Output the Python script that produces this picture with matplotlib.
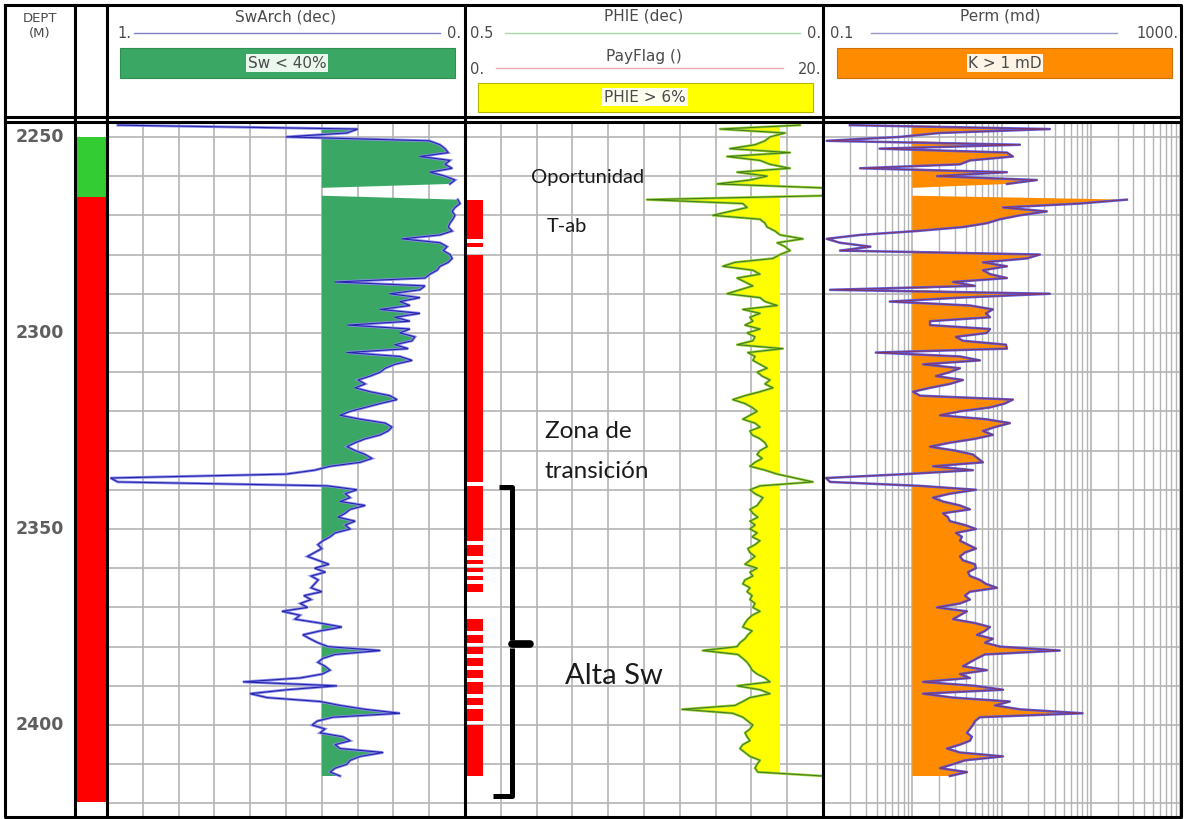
import numpy as np
import matplotlib
matplotlib.use("Agg")
import matplotlib.pyplot as plt
from matplotlib.patches import Rectangle

# ---------------------------------------------------------------- data
depth = np.arange(2247, 2414)  # metres, 1 m sampling

sw = np.array([
    0.97, 0.30, 0.33,
    0.50, 0.10, 0.07, 0.056, 0.047, 0.126, 0.042, 0.056, 0.036, 0.098,
    0.056, 0.028, 0.042, np.nan, np.nan, np.nan, 0.02, 0.014, 0.028, 0.036,
    0.028, 0.034, 0.042, 0.047, 0.036, 0.07, 0.176, 0.07, 0.05, 0.061,
    0.042, 0.036, 0.047, 0.07, 0.078, 0.098, 0.112, 0.363, 0.112, 0.126,
    0.21, 0.126, 0.182, 0.154, 0.237, 0.126, 0.196, 0.154, 0.327, 0.154,
    0.182, 0.14, 0.148, 0.196, 0.159, 0.33, 0.182, 0.148, 0.196, 0.223,
    0.237, 0.265, 0.299, 0.279, 0.307, 0.265, 0.21, 0.19, 0.237, 0.279,
    0.321, 0.349, 0.293, 0.223, 0.204, 0.215, 0.237, 0.279, 0.307, 0.33,
    0.307, 0.279, 0.26, 0.293, 0.377, 0.42, 0.50, 0.99, 0.97, 0.385,
    0.302, 0.335, 0.321, 0.349, 0.279, 0.321, 0.335, 0.355, 0.307, 0.335,
    0.321, 0.363, 0.377, 0.397, 0.411, 0.40, 0.42, 0.44, 0.41, 0.38,
    0.42, 0.39, 0.43, 0.41, 0.42, 0.43, 0.40, 0.45, 0.43, 0.46,
    0.44, 0.511, 0.461, 0.475, 0.405, 0.344, 0.405, 0.453, 0.433, 0.411,
    0.383, 0.237, 0.363, 0.397, 0.411, 0.391, 0.377, 0.399, 0.461, 0.62,
    0.358, 0.497, 0.60, 0.553, 0.405, 0.349, 0.279, 0.182, 0.369, 0.413,
    0.427, 0.391, 0.405, 0.341, 0.321, 0.363, 0.349, 0.229, 0.293, 0.321,
    0.33, 0.363, 0.377, 0.349,
])

phie = np.array([
    0.032, 0.144, 0.053,
    0.074, 0.081, 0.095, 0.130, 0.046, 0.134, 0.088, 0.074, 0.046, 0.120,
    0.078, 0.102, 0.148, 0.0, 0.0, 0.0, 0.246, 0.112, 0.106, 0.130,
    0.154, 0.088, 0.081, 0.078, 0.067, 0.060, 0.028, 0.064, 0.053, 0.046,
    0.060, 0.070, 0.123, 0.140, 0.098, 0.088, 0.120, 0.109, 0.098, 0.116,
    0.134, 0.088, 0.081, 0.064, 0.112, 0.088, 0.102, 0.098, 0.109, 0.088,
    0.106, 0.095, 0.098, 0.120, 0.056, 0.105, 0.095, 0.098, 0.088, 0.078,
    0.092, 0.085, 0.074, 0.081, 0.070, 0.088, 0.109, 0.126, 0.109, 0.099,
    0.092, 0.102, 0.112, 0.095, 0.088, 0.102, 0.099, 0.088, 0.081, 0.078,
    0.088, 0.092, 0.085, 0.095, 0.102, 0.081, 0.064, 0.039, 0.014, 0.088,
    0.102, 0.095, 0.084, 0.088, 0.092, 0.102, 0.098, 0.091, 0.102, 0.095,
    0.102, 0.092, 0.099, 0.088, 0.095, 0.105, 0.102, 0.095, 0.102, 0.109,
    0.092, 0.102, 0.098, 0.109, 0.112, 0.102, 0.106, 0.099, 0.102, 0.095,
    0.098, 0.088, 0.099, 0.105, 0.109, 0.112, 0.099, 0.105, 0.109, 0.116,
    0.120, 0.168, 0.119, 0.112, 0.106, 0.102, 0.099, 0.092, 0.081, 0.074,
    0.120, 0.088, 0.074, 0.102, 0.112, 0.123, 0.197, 0.126, 0.112, 0.105,
    0.098, 0.102, 0.109, 0.106, 0.102, 0.112, 0.116, 0.109, 0.102, 0.088,
    0.092, 0.095, 0.091, 0.0,
])

perm = np.array([
    0.2, 34.8, 2.04,
    0.73, 0.11, 16.1, 0.43, 11.5, 13.4, 4.43, 3.42, 0.26, 11.5,
    1.89, 24.9, 11.5, np.nan, np.nan, np.nan, 254.0, 75.0, 10.4, 32.2,
    16.1, 9.6, 6.87, 3.7, 1.13, 0.26, 0.11, 0.155, 0.34, 0.155,
    26.9, 19.2, 6.19, 11.5, 6.19, 7.42, 11.5, 2.86, 5.04, 0.12,
    34.8, 3.42, 0.56, 4.43, 8.0, 6.69, 7.42, 1.58, 1.58, 7.42,
    6.87, 3.08, 3.7, 11.2, 11.5, 0.39, 3.42, 5.73, 1.32, 3.42,
    2.64, 1.84, 3.7, 2.64, 1.58, 1.02, 1.22, 13.4, 10.9, 7.42,
    3.42, 2.04, 6.69, 12.4, 8.44, 6.19, 8.0, 5.04, 2.64, 1.58,
    3.0, 4.78, 5.44, 6.19, 1.71, 4.78, 0.85, 0.108, 0.12, 1.22,
    5.17, 2.64, 1.71, 2.21, 3.42, 4.43, 2.21, 2.51, 2.64, 3.89,
    5.17, 3.08, 3.6, 3.42, 4.21, 5.17, 3.89, 3.42, 3.7, 5.04,
    5.17, 4.21, 4.43, 5.73, 6.69, 8.88, 4.43, 3.89, 4.43, 3.42,
    1.89, 4.1, 3.42, 2.86, 5.04, 7.42, 6.52, 5.3, 8.0, 6.52,
    9.6, 45.0, 6.52, 5.3, 4.43, 3.7, 6.87, 3.42, 4.43, 1.32,
    5.04, 10.4, 1.32, 2.86, 12.4, 8.44, 16.1, 81.0, 5.73, 5.04,
    4.78, 4.43, 4.1, 4.66, 4.43, 3.42, 2.45, 3.42, 10.4, 3.89,
    2.86, 2.04, 4.1, 2.64,
])

payflag = np.array([
    0, 0, 0,
    0, 0, 0, 0, 0, 0, 0, 0, 0, 0,
    0, 0, 0, 0, 0, 0, 1, 1, 1, 1,
    1, 1, 1, 1, 1, 1, 0, 1, 0, 0,
    1, 1, 1, 1, 1, 1, 1, 1, 1, 1,
    1, 1, 1, 1, 1, 1, 1, 1, 1, 1,
    1, 1, 1, 1, 1, 1, 1, 1, 1, 1,
    1, 1, 1, 1, 1, 1, 1, 1, 1, 1,
    1, 1, 1, 1, 1, 1, 1, 1, 1, 1,
    1, 1, 1, 1, 1, 1, 1, 1, 0, 1,
    1, 1, 1, 1, 1, 1, 1, 1, 1, 1,
    1, 1, 1, 0, 1, 1, 1, 0, 1, 0,
    1, 0, 1, 0, 1, 1, 0, 0, 0, 0,
    0, 0, 0, 1, 1, 1, 0, 1, 1, 0,
    1, 1, 0, 1, 1, 0, 1, 1, 0, 1,
    1, 1, 0, 1, 1, 0, 1, 1, 1, 0,
    1, 1, 1, 1, 1, 1, 1, 1, 1, 1,
    1, 1, 1, 1,
], dtype=float)

# zone flag column
zone_top = [2250.0, 2265.3]
zone_base = [2265.3, 2419.6]
zone_color = ["#33cc33", "#ff0000"]

depth_labels = [2250, 2300, 2350, 2400]

sw_cut, phie_cut, perm_cut = 0.40, 0.06, 1.0

# ---------------------------------------------------------------- figure
W, H = 1184, 819
fig = plt.figure(figsize=(W / 100, H / 100), dpi=100)
fig.patch.set_facecolor("white")


def frac(x0, y0, x1, y1):
    return [x0 / W, 1 - y1 / H, (x1 - x0) / W, (y1 - y0) / H]


TOP, BOT = 122, 816
DMIN, DMAX = 2246.2, 2423.2
GRID = "#b4b4b4"
HDR = "#4a4a4a"


def base_track(ax):
    ax.set_ylim(DMAX, DMIN)
    ax.set_yticks(np.arange(2250, 2430, 10))
    ax.tick_params(left=False, bottom=False, top=False, right=False,
                   labelleft=False, labelbottom=False, labeltop=False)
    for s in ax.spines.values():
        s.set_visible(False)
    ax.set_axisbelow(True)


ax_dep = fig.add_axes(frac(5, TOP, 75, BOT))
ax_flag = fig.add_axes(frac(75, TOP, 107, BOT))
ax_sw = fig.add_axes(frac(107, TOP, 465, BOT))
ax_phi = fig.add_axes(frac(465, TOP, 823, BOT))
ax_k = fig.add_axes(frac(823, TOP, 1180, BOT))

for a in (ax_dep, ax_flag, ax_sw, ax_phi, ax_k):
    base_track(a)

# depth column
ax_dep.set_xlim(0, 1)
for d in depth_labels:
    ax_dep.text(0.5, d, str(d), ha="center", va="center", fontsize=12.5,
                fontweight="bold", color="#5e5e5e", family="DejaVu Sans")

# zone flag column
ax_flag.set_xlim(0, 1)
for t, b, c in zip(zone_top, zone_base, zone_color):
    ax_flag.axhspan(t, b, color=c, lw=0)

# Sw track
ax_sw.set_xlim(1, 0)
ax_sw.set_xticks(np.arange(0, 1.01, 0.1))
ax_sw.grid(True, color=GRID, lw=1.2)
valid = ~np.isnan(sw)
ax_sw.fill_betweenx(depth, np.where(valid, sw, sw_cut), sw_cut,
                    where=valid & (np.nan_to_num(sw, nan=1) < sw_cut),
                    interpolate=True, color="#3aa864", lw=0)
ax_sw.plot(sw, depth, color="#8c8cec", lw=2.0, solid_joinstyle="miter")
ax_sw.plot(sw, depth, color="#2424aa", lw=0.8)

# PHIE track with PayFlag overlay
ax_phi.set_xlim(0.5, 0)
ax_phi.set_xticks(np.arange(0, 0.501, 0.05))
ax_phi.grid(True, color=GRID, lw=1.2)
ax_phi.fill_betweenx(depth, phie, phie_cut, where=phie > phie_cut,
                     interpolate=True, color="#ffff00", lw=0)
ax_phi.plot(phie, depth, color="#9acd32", lw=1.8)
ax_phi.plot(phie, depth, color="#3d7a1c", lw=0.7)

ax_pf = ax_phi.twiny()
ax_pf.set_xlim(0, 20)
ax_pf.set_ylim(DMAX, DMIN)
ax_pf.axis("off")
ax_pf.fill_betweenx(depth, 0, payflag, step="post", color="#ff0000", lw=0)

# Perm track
ax_k.set_xscale("log")
ax_k.set_xlim(0.1, 1000)
ax_k.grid(True, which="major", axis="both", color=GRID, lw=1.2)
ax_k.grid(True, which="minor", axis="x", color=GRID, lw=1.0)
ax_k.tick_params(which="minor", bottom=False, top=False)
kval = ~np.isnan(perm)
ax_k.fill_betweenx(depth, np.where(kval, perm, perm_cut), perm_cut,
                   where=kval & (np.nan_to_num(perm, nan=0) > perm_cut),
                   interpolate=True, color="#ff8c00", lw=0)
ax_k.plot(perm, depth, color="#5a5ae0", lw=1.8)
ax_k.plot(perm, depth, color="#8a3050", lw=0.6)

# ---------------------------------------------------------------- overlay (headers, frame, notes)
ov = fig.add_axes([0, 0, 1, 1])
ov.set_xlim(0, W)
ov.set_ylim(H, 0)
ov.axis("off")

hf = dict(family="DejaVu Sans", color=HDR)
HS = 11
SS = 10.5

# header: depth
ov.text(40, 18, "DEPT", ha="center", va="center", fontsize=9.5, **hf)
ov.text(40, 33, "(M)", ha="center", va="center", fontsize=9.5, **hf)

# header: Sw
ov.text(286, 17, "SwArch (dec)", ha="center", va="center", fontsize=HS, **hf)
ov.plot([134, 440], [33, 33], color="#8080c8", lw=1.0)
ov.text(117, 34, "1.", ha="left", va="center", fontsize=SS, **hf)
ov.text(461, 34, "0.", ha="right", va="center", fontsize=SS, **hf)
ov.add_patch(Rectangle((120, 48), 335, 30, facecolor="#3aa864",
                       edgecolor="#2f8f52", lw=0.8))
ov.text(287, 63, "Sw < 40%", ha="center", va="center", fontsize=HS,
        bbox=dict(facecolor="#eaf8ee", edgecolor="none", pad=1.2), **hf)

# header: PHIE / PayFlag
ov.text(644, 16, "PHIE (dec)", ha="center", va="center", fontsize=HS, **hf)
ov.plot([505, 800], [33, 33], color="#a8d8a8", lw=1.0)
ov.text(470, 34, "0.5", ha="left", va="center", fontsize=SS, **hf)
ov.text(821, 34, "0.", ha="right", va="center", fontsize=SS, **hf)
ov.text(644, 57, "PayFlag ()", ha="center", va="center", fontsize=HS, **hf)
ov.plot([496, 783], [68, 68], color="#eaa8b0", lw=1.0)
ov.text(470, 69, "0.", ha="left", va="center", fontsize=SS, **hf)
ov.text(821, 69, "20.", ha="right", va="center", fontsize=SS, **hf)
ov.add_patch(Rectangle((478, 83), 335, 29, facecolor="#ffff00",
                       edgecolor="#b5b500", lw=0.8))
ov.text(645, 97, "PHIE > 6%", ha="center", va="center", fontsize=HS,
        bbox=dict(facecolor="#fffff0", edgecolor="none", pad=1.2), **hf)

# header: Perm
ov.text(1000, 16, "Perm (md)", ha="center", va="center", fontsize=HS, **hf)
ov.plot([871, 1117], [33, 33], color="#9898cc", lw=1.0)
ov.text(830, 34, "0.1", ha="left", va="center", fontsize=SS, **hf)
ov.text(1179, 34, "1000.", ha="right", va="center", fontsize=SS, **hf)
ov.add_patch(Rectangle((837, 48), 335, 30, facecolor="#ff8c00",
                       edgecolor="#d07000", lw=0.8))
ov.text(1005, 63, "K > 1 mD", ha="center", va="center", fontsize=HS,
        bbox=dict(facecolor="#fff4e6", edgecolor="none", pad=1.2), **hf)

# frame
FR = dict(color="black", lw=2.2, solid_capstyle="projecting")
ov.plot([5, 1181, 1181, 5, 5], [5, 5, 817, 817, 5], **FR)
ov.plot([5, 1181], [117, 117], **FR)
ov.plot([5, 1181], [122, 122], **FR)
for x in (75, 107, 465, 823):
    ov.plot([x, x], [5, 817], **FR)

# notes
nf = dict(family="Lato", color="#1a1a1a", ha="center", va="center")
ov.text(588, 178, "Oportunidad", fontsize=14.5, **nf)
ov.text(567, 226, "T-ab", fontsize=14.5, **nf)
ov.text(588, 432, "Zona de", fontsize=17.5, **nf)
ov.text(597, 471, "transición", fontsize=17.5, **nf)
ov.text(614, 676, "Alta Sw", fontsize=21, **nf)

# brace
BR = dict(color="black", lw=3.6, solid_capstyle="butt", solid_joinstyle="round")
ov.plot([499, 512, 512], [487, 487, 640], **BR)
ov.plot([512, 512, 493], [648, 796, 796], **BR)
ov.plot([512, 530], [644, 644], color="black", lw=5.5, solid_capstyle="round")

fig.savefig("out.png", dpi=100, facecolor="white")
